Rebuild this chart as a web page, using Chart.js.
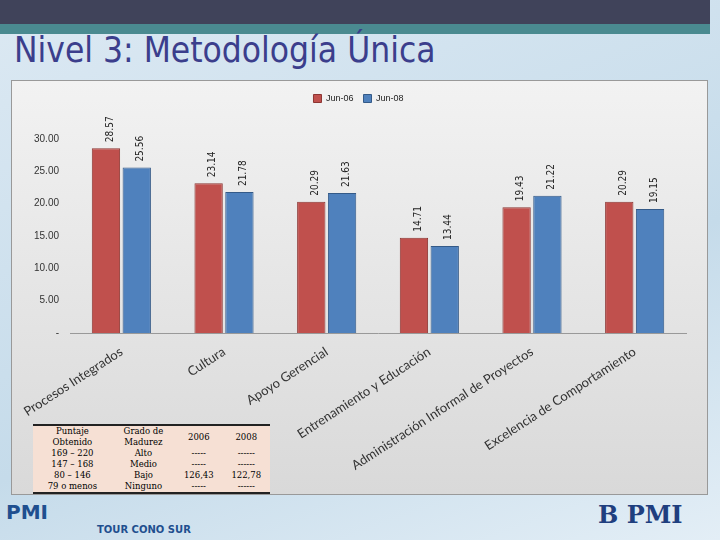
<!DOCTYPE html>
<html><head><meta charset="utf-8">
<script src="https://cdn.jsdelivr.net/npm/chart.js@4"></script>
<style>
body{margin:0;width:720px;height:540px;overflow:hidden;font-family:"DejaVu Sans";background:linear-gradient(160deg,#dce9f3,#c5dbea 60%,#e3eef6);position:relative}
#top{position:absolute;left:0;top:0;width:710px;height:24px;background:#40435a}
#band{position:absolute;left:0;top:24px;width:710px;height:10px;background:#4a8a90}
#title{position:absolute;left:14px;top:30px;font-size:35px;color:#3b3e8c;font-family:"DejaVu Sans Condensed","DejaVu Sans"}
#box{position:absolute;left:11px;top:80px;width:695px;height:413px;background:linear-gradient(#f2f2f2,#d9d9d9);border:1px solid #999}
#wrap{position:absolute;left:11px;top:80px;width:695px;height:413px}
table{position:absolute;left:33px;top:424px;width:237px;border-collapse:collapse;background:#f6e0d4;font-family:"DejaVu Serif";font-size:8.5px;text-align:center;border-top:2px solid #222;border-bottom:2px solid #222}
td{padding:0;line-height:11px}
#foot{position:absolute;left:6px;top:500px;font:bold 20px "DejaVu Sans";color:#1f4f8f}
#foot2{position:absolute;left:97px;top:524px;font:bold 10px "DejaVu Sans";color:#1f4f8f}
#foot3{position:absolute;left:598px;top:500px;font:bold 24px "DejaVu Serif";color:#1f3f7f}
</style></head><body>
<div id="top"></div><div id="band"></div>
<div id="title">Nivel 3: Metodología Única</div>
<div id="box"></div>
<div id="wrap"><canvas id="c" width="695" height="413"></canvas></div>
<table>
<tr><td>Puntaje<br>Obtenido</td><td>Grado de<br>Madurez</td><td>2006</td><td>2008</td></tr>
<tr><td>169 – 220</td><td>Alto</td><td>-----</td><td>------</td></tr>
<tr><td>147 – 168</td><td>Medio</td><td>-----</td><td>------</td></tr>
<tr><td>80 – 146</td><td>Bajo</td><td>126,43</td><td>122,78</td></tr>
<tr><td>79 o menos</td><td>Ninguno</td><td>-----</td><td>------</td></tr>
</table>
<div id="foot">PMI</div><div id="foot2">TOUR CONO SUR</div><div id="foot3">B PMI</div>
<script>
const categories = ['Procesos Integrados', 'Cultura', 'Apoyo Gerencial', 'Entrenamiento y Educación', 'Administración Informal de Proyectos', 'Excelencia de Comportamiento'];
const jun06 = [28.57, 23.14, 20.29, 14.71, 19.43, 20.29];
const jun08 = [25.56, 21.78, 21.63, 13.44, 21.22, 19.15];
const seriesNames = ['Jun-06', 'Jun-08'];

// Vertical value labels above each bar
const valueLabels = {
    id: 'valueLabels',
    afterDatasetsDraw(chart) {
        const ctx = chart.ctx;
        ctx.save();
        ctx.font = '10px "DejaVu Sans Condensed"';
        ctx.fillStyle = '#222';
        chart.data.datasets.forEach((ds, i) => {
            chart.getDatasetMeta(i).data.forEach((bar, j) => {
                ctx.save();
                ctx.translate(bar.x + 4, bar.y - 6);
                ctx.rotate(-Math.PI / 2);
                ctx.textAlign = 'left';
                ctx.fillText(ds.data[j].toFixed(2), 0, 0);
                ctx.restore();
            });
        });
        ctx.restore();
    }
};

new Chart(document.getElementById('c'), {
    type: 'bar',
    data: {
        labels: categories,
        datasets: [
            { label: seriesNames[0], data: jun06, backgroundColor: '#c0504d', borderColor: '#8c3532', borderWidth: 1 },
            { label: seriesNames[1], data: jun08, backgroundColor: '#4f81bd', borderColor: '#345a88', borderWidth: 1 }
        ]
    },
    options: {
        responsive: false,
        animation: false,
        layout: { padding: { left: 20, right: 20, top: 4 } },
        datasets: { bar: { categoryPercentage: 0.6, barPercentage: 0.92 } },
        plugins: {
            legend: { labels: { boxWidth: 8, boxHeight: 8, font: { size: 9 }, color: '#222' } },
            tooltip: { enabled: false }
        },
        scales: {
            x: {
                grid: { display: false },
                border: { color: '#999' },
                afterFit: s => { s.height = 160; },
                ticks: { minRotation: 33, maxRotation: 33, autoSkip: false, color: '#333', font: { family: 'Lato', size: 13 } }
            },
            y: {
                min: 0, max: 34,
                grid: { display: false },
                border: { display: false },
                ticks: {
                    stepSize: 5, color: '#333', font: { size: 10 },
                    callback: v => v === 0 ? '-' : (v % 5 === 0 ? v.toFixed(2) : '')
                }
            }
        }
    },
    plugins: [valueLabels]
});
</script>
</body></html>
